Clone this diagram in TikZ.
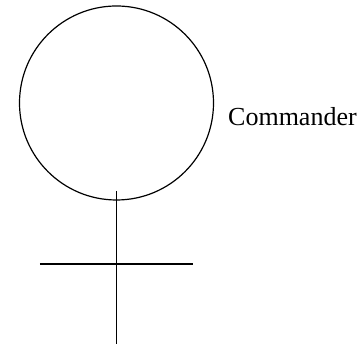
\documentclass[tikz,border=0pt]{standalone}
\usepackage{fontspec}
\setmainfont{Liberation Serif}
\begin{document}
\begin{tikzpicture}[x=1pt,y=1pt,
  stroke/.style={line width=1.2pt,black},
  headcircle/.style={circle,draw,line width=1.2pt,minimum size=194pt,inner sep=0pt},
  lbl/.style={anchor=base west,inner sep=0pt,font=\fontsize{26}{30}\selectfont}]
\useasboundingbox (0,0) rectangle (360,344);
\node[headcircle] (head) at (116.5,241) {};
\node[lbl] (label) at (228,218) {Commander};
\coordinate (stemtop) at (116.5,153);
\coordinate (stembot) at (116.5,0);
\coordinate (barl) at (40,80);
\coordinate (barr) at (193,80);
\draw[stroke] (stemtop) -- (stembot);
\draw[stroke] (barl) -- (barr);
\end{tikzpicture}
\end{document}
